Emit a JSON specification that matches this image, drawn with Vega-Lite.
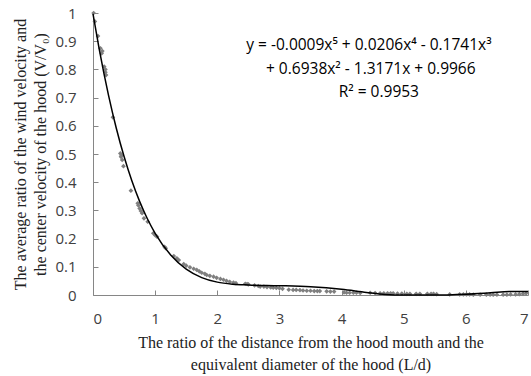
{
  "$schema": "https://vega.github.io/schema/vega-lite/v6.json",
  "autosize": {"type": "none"},
  "padding": {"left": 93, "top": 13, "right": 3, "bottom": 81},
  "width": 435,
  "height": 282,
  "background": "white",
  "config": {"view": {"stroke": null}},
  "datasets": {
    "pts": [
      {"x": 0.01, "y": 1.0}, {"x": 0.03, "y": 0.97}, {"x": 0.08, "y": 0.918}, {"x": 0.12, "y": 0.875},
      {"x": 0.14, "y": 0.857}, {"x": 0.15, "y": 0.865}, {"x": 0.18, "y": 0.81}, {"x": 0.2, "y": 0.79},
      {"x": 0.21, "y": 0.78}, {"x": 0.2, "y": 0.8}, {"x": 0.32, "y": 0.63},
      {"x": 0.44, "y": 0.502}, {"x": 0.45, "y": 0.49}, {"x": 0.47, "y": 0.479}, {"x": 0.46, "y": 0.495},
      {"x": 0.49, "y": 0.457}, {"x": 0.61, "y": 0.37}, {"x": 0.72, "y": 0.325}, {"x": 0.73, "y": 0.318},
      {"x": 0.75, "y": 0.307}, {"x": 0.77, "y": 0.298}, {"x": 0.79, "y": 0.29}, {"x": 0.82, "y": 0.272},
      {"x": 0.88, "y": 0.26}, {"x": 0.97, "y": 0.219}, {"x": 1.0, "y": 0.212}, {"x": 1.03, "y": 0.207},
      {"x": 1.15, "y": 0.171}, {"x": 1.17, "y": 0.166}, {"x": 1.3, "y": 0.138}, {"x": 1.35, "y": 0.13},
      {"x": 1.38, "y": 0.124}, {"x": 1.46, "y": 0.11}, {"x": 1.5, "y": 0.104}, {"x": 1.56, "y": 0.098},
      {"x": 1.62, "y": 0.093}, {"x": 1.67, "y": 0.089}, {"x": 1.71, "y": 0.084}, {"x": 1.75, "y": 0.079},
      {"x": 1.8, "y": 0.075}, {"x": 1.83, "y": 0.071}, {"x": 1.88, "y": 0.068}, {"x": 1.94, "y": 0.065},
      {"x": 1.99, "y": 0.061}, {"x": 2.05, "y": 0.057}, {"x": 2.1, "y": 0.054}, {"x": 2.15, "y": 0.05},
      {"x": 2.2, "y": 0.047}, {"x": 2.26, "y": 0.044}, {"x": 2.3, "y": 0.042}, {"x": 2.45, "y": 0.04},
      {"x": 2.48, "y": 0.039}, {"x": 2.5, "y": 0.038}, {"x": 2.6, "y": 0.034}, {"x": 2.66, "y": 0.032},
      {"x": 2.69, "y": 0.03}, {"x": 2.75, "y": 0.03}, {"x": 2.8, "y": 0.028}, {"x": 2.86, "y": 0.027},
      {"x": 2.9, "y": 0.026}, {"x": 2.95, "y": 0.025}, {"x": 3.0, "y": 0.024}, {"x": 3.05, "y": 0.022},
      {"x": 3.15, "y": 0.019}, {"x": 3.22, "y": 0.018}, {"x": 3.27, "y": 0.018}, {"x": 3.33, "y": 0.017},
      {"x": 3.38, "y": 0.016}, {"x": 3.44, "y": 0.015}, {"x": 3.5, "y": 0.015}, {"x": 3.56, "y": 0.014},
      {"x": 3.61, "y": 0.014}, {"x": 3.65, "y": 0.014}, {"x": 3.76, "y": 0.013}, {"x": 3.82, "y": 0.012},
      {"x": 3.88, "y": 0.012}, {"x": 4.04, "y": 0.009}, {"x": 4.08, "y": 0.008}, {"x": 4.13, "y": 0.008},
      {"x": 4.19, "y": 0.008}, {"x": 4.24, "y": 0.008}, {"x": 4.3, "y": 0.007}, {"x": 4.46, "y": 0.008},
      {"x": 4.54, "y": 0.007}, {"x": 4.62, "y": 0.006}, {"x": 4.68, "y": 0.006}, {"x": 4.74, "y": 0.006},
      {"x": 4.79, "y": 0.006}, {"x": 4.83, "y": 0.006}, {"x": 4.9, "y": 0.005}, {"x": 4.97, "y": 0.005},
      {"x": 5.05, "y": 0.004}, {"x": 5.1, "y": 0.004}, {"x": 5.2, "y": 0.004}, {"x": 5.26, "y": 0.004},
      {"x": 5.38, "y": 0.004}, {"x": 5.44, "y": 0.004}, {"x": 5.48, "y": 0.004}, {"x": 5.53, "y": 0.003},
      {"x": 5.74, "y": 0.002}, {"x": 5.9, "y": 0.002}, {"x": 5.96, "y": 0.002}, {"x": 6.01, "y": 0.002},
      {"x": 6.06, "y": 0.002}, {"x": 6.12, "y": 0.001}, {"x": 6.23, "y": 0.001}, {"x": 6.33, "y": 0.001},
      {"x": 6.39, "y": 0.001}, {"x": 6.44, "y": 0.001}, {"x": 6.5, "y": 0.001}, {"x": 6.6, "y": 0.001},
      {"x": 6.66, "y": 0.001}, {"x": 6.72, "y": 0.002}, {"x": 6.8, "y": 0.002}, {"x": 6.86, "y": 0.003},
      {"x": 6.92, "y": 0.004}, {"x": 6.97, "y": 0.006}
    ],
    "fit": [
      {"x": 0, "y": 0.9966}, {"x": 0.1, "y": 0.8717}, {"x": 0.25, "y": 0.708}, {"x": 0.375, "y": 0.5915},
      {"x": 0.5, "y": 0.491}, {"x": 0.625, "y": 0.405}, {"x": 0.75, "y": 0.332}, {"x": 0.875, "y": 0.2703},
      {"x": 1, "y": 0.2189}, {"x": 1.25, "y": 0.1418}, {"x": 1.5, "y": 0.0919}, {"x": 1.75, "y": 0.0618},
      {"x": 2, "y": 0.0456}, {"x": 2.25, "y": 0.0384}, {"x": 2.5, "y": 0.0355}, {"x": 3, "y": 0.033},
      {"x": 3.5, "y": 0.029}, {"x": 4, "y": 0.02}, {"x": 4.4, "y": 0.009}, {"x": 4.7, "y": 0.002},
      {"x": 5.0, "y": 0.0}, {"x": 5.5, "y": 0.0}, {"x": 6.0, "y": 0.003}, {"x": 6.4, "y": 0.008},
      {"x": 6.7, "y": 0.012}, {"x": 7.0, "y": 0.012}
    ],
    "eq": [
      {"t": "y = -0.0009x⁵ + 0.0206x⁴ - 0.1741x³", "x": 4.44, "y": 0.886},
      {"t": "+ 0.6938x² - 1.3171x + 0.9966", "x": 4.47, "y": 0.802},
      {"t": "R² = 0.9953", "x": 4.6, "y": 0.72}
    ]
  },
  "encoding": {
    "x": {
      "field": "x", "type": "quantitative",
      "scale": {"domain": [0, 7], "nice": false},
      "axis": {
        "values": [0, 1, 2, 3, 4, 5, 6, 7],
        "format": "d",
        "grid": false,
        "domainColor": "#868686", "tickColor": "#868686", "tickSize": -5,
        "labelFont": "Open Sans", "labelFontSize": 15, "labelColor": "#404040", "labelPadding": 21,
        "title": ["The ratio of the distance from the hood mouth and the", "equivalent diameter of the hood (L/d)"],
        "titleFont": "Liberation Serif", "titleFontSize": 16, "titleFontWeight": "normal", "titleColor": "#222222",
        "titlePadding": 8, "titleLineHeight": 22
      }
    },
    "y": {
      "field": "y", "type": "quantitative",
      "scale": {"domain": [0, 1], "nice": false},
      "axis": {
        "values": [0, 0.1, 0.2, 0.3, 0.4, 0.5, 0.6, 0.7, 0.8, 0.9, 1],
        "format": "~g",
        "grid": false,
        "domainColor": "#868686", "tickColor": "#868686", "tickSize": -5,
        "labelFont": "Open Sans", "labelFontSize": 15, "labelColor": "#404040", "labelPadding": 22,
        "title": ["The average ratio of the wind velocity and", "the center velocity of the hood (V/V₀)"],
        "titleFont": "Liberation Serif", "titleFontSize": 16, "titleFontWeight": "normal", "titleColor": "#222222",
        "titlePadding": 6, "titleLineHeight": 20
      }
    }
  },
  "layer": [
    {
      "data": {"name": "pts"},
      "mark": {"type": "point", "shape": "diamond", "filled": true, "color": "#7f7f7f", "size": 22, "opacity": 1}
    },
    {
      "data": {"name": "fit"},
      "mark": {"type": "line", "color": "#000000", "strokeWidth": 1.5, "interpolate": "monotone"}
    },
    {
      "data": {"name": "eq"},
      "mark": {"type": "text", "font": "Open Sans", "fontSize": 15.5, "color": "#000000", "align": "center", "baseline": "middle"},
      "encoding": {
        "text": {"field": "t"}
      }
    }
  ]
}
